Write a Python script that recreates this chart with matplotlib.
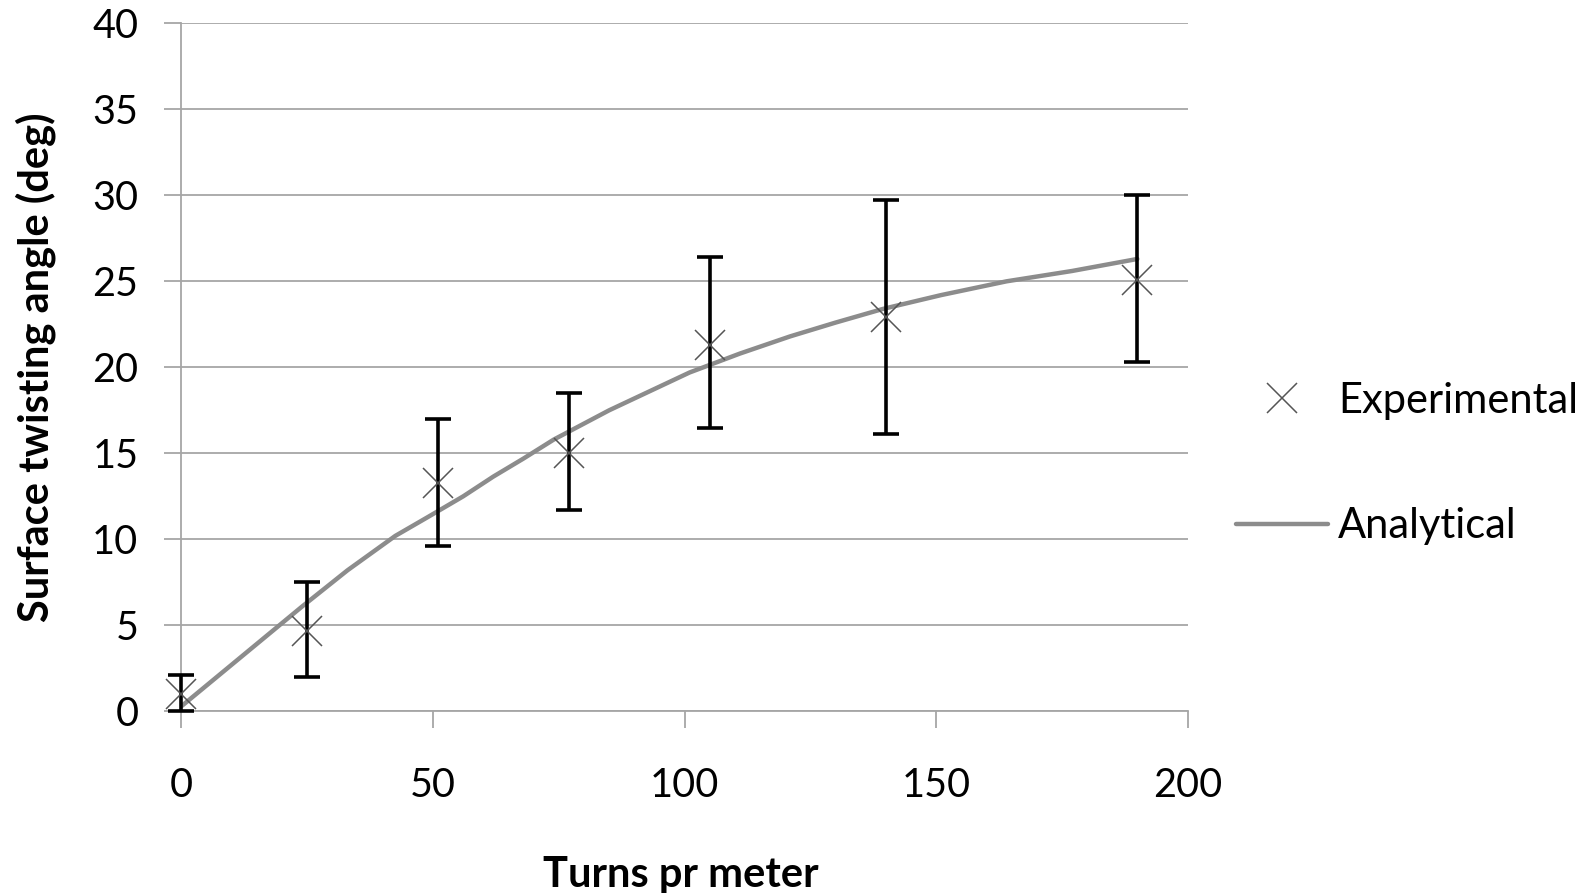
import matplotlib.pyplot as plt

# === Data ===
turns = [0, 25, 51, 77, 105, 140, 190]
angle_exp = [1.0, 4.7, 13.3, 15.0, 21.3, 22.9, 25.1]
err_low = [1.0, 2.7, 3.7, 3.3, 4.8, 6.8, 4.8]
err_high = [1.1, 2.8, 3.7, 3.5, 5.1, 6.8, 4.9]

turns_model = [0, 12, 24, 33, 42.5, 49, 56, 62, 68, 74, 85, 93, 101, 111, 121, 130, 139.5, 151, 164, 177, 190]
angle_model = [0.3, 3.2, 6.1, 8.2, 10.2, 11.3, 12.5, 13.65, 14.7, 15.8, 17.5, 18.6, 19.7,
               20.8, 21.8, 22.6, 23.4, 24.2, 25.0, 25.6, 26.3]

x_ticks = [0, 50, 100, 150, 200]
y_ticks = [0, 5, 10, 15, 20, 25, 30, 35, 40]

plt.rcParams['font.family'] = ['Lato', 'DejaVu Sans']

fig = plt.figure(figsize=(15.89, 8.93), dpi=100)
ax = fig.add_axes([0.1142, 0.2034, 0.6332, 0.7705])

ax.plot(turns_model, angle_model, color="#8c8c8c", lw=3.2, label="Analytical", zorder=3,
        solid_capstyle="round", solid_joinstyle="round")
ax.errorbar(turns, angle_exp, yerr=[err_low, err_high], fmt="none", ecolor="black",
            elinewidth=2.6, capsize=9.5, capthick=2.6, zorder=4, clip_on=False)
ax.plot(turns, angle_exp, linestyle="none", marker="x", markersize=22, mew=1.1,
        color="#555555", label="Experimental", zorder=5, clip_on=False)

ax.set_xlim(0, 200)
ax.set_ylim(0, 40)
ax.set_xticks(x_ticks)
ax.set_yticks(y_ticks)
ax.grid(axis="y", color="#a6a6a6", lw=1.3)
ax.set_axisbelow(True)

for s in ["top", "right"]:
    ax.spines[s].set_visible(False)
for s in ["left", "bottom"]:
    ax.spines[s].set_color("#a6a6a6")
    ax.spines[s].set_linewidth(1.3)

ax.tick_params(axis="x", direction="out", length=12, width=1.3, color="#a6a6a6",
               pad=28, labelsize=28.5)
ax.tick_params(axis="y", direction="out", length=12, width=1.3, color="#a6a6a6",
               pad=19, labelsize=28.5)

ax.set_xlabel("Turns pr meter", fontsize=30, fontweight="bold")
ax.set_ylabel("Surface twisting angle (deg)", fontsize=30, fontweight="bold")
ax.xaxis.set_label_coords(0.4965, -0.21)
ax.yaxis.set_label_coords(-0.125, 0.5)

handles, labels = ax.get_legend_handles_labels()
ax.legend(handles[::-1], labels[::-1], loc="center left", bbox_to_anchor=(1.048, 0.36),
          frameon=False, fontsize=30, handlelength=2.2, handletextpad=0.25,
          labelspacing=2.1, borderpad=0, borderaxespad=0)

fig.savefig("out.png", dpi=100)
